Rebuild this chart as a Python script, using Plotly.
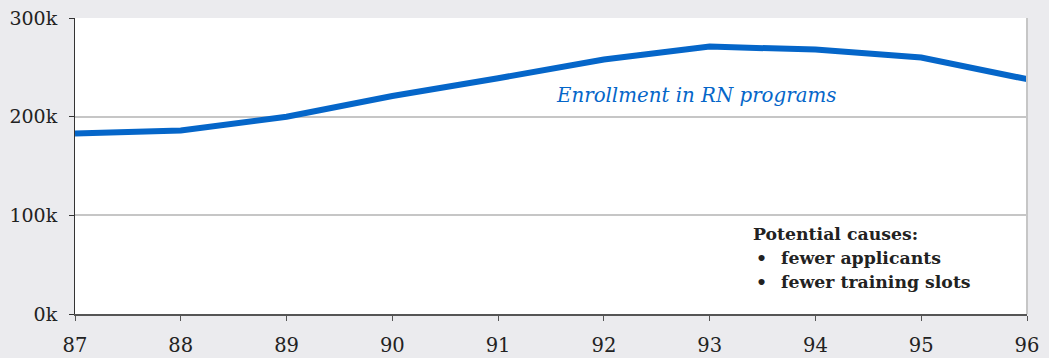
import plotly.graph_objects as go

# Enrollment in RN programs, thousands of students by year
years = [87, 88, 89, 90, 91, 92, 93, 94, 95, 96]
enrollment = [183000, 186000, 200000, 221000, 239000, 258000, 271000, 268000, 260000, 238000]

y_ticks = [0, 100000, 200000, 300000]
y_tick_labels = ["0k", "100k", "200k", "300k"]

series_label = "Enrollment in RN programs"
causes_title = "Potential causes:"
causes = ["fewer applicants", "fewer training slots"]

SERIF = "DejaVu Serif"
BLUE = "#0566c9"
TEXT = "#222222"

fig = go.Figure()
fig.add_trace(go.Scatter(
    x=years, y=enrollment, mode="lines",
    line=dict(color=BLUE, width=6),
    hoverinfo="skip", showlegend=False,
))

fig.update_layout(
    width=1049, height=358,
    margin=dict(l=75, r=22, t=18, b=44),
    paper_bgcolor="#ebebee",
    plot_bgcolor="white",
    font=dict(family=SERIF, size=19, color=TEXT),
    showlegend=False,
)

fig.update_xaxes(
    range=[87, 96], tickvals=years, ticktext=[str(v) for v in years],
    showgrid=False, zeroline=False,
    showline=True, linecolor="#555555", linewidth=2,
    ticks="outside", ticklen=5, tickcolor="#555555", tickwidth=1,
    tickfont=dict(family=SERIF, size=19.5, color=TEXT),
    ticklabelstandoff=8,
    automargin=False,
)
fig.update_yaxes(
    range=[0, 300000], tickvals=y_ticks, ticktext=y_tick_labels,
    showgrid=True, gridcolor="#c6c6c6", gridwidth=2,
    zeroline=False,
    showline=True, linecolor="#333333", linewidth=1,
    ticks="outside", ticklen=5, tickcolor="#333333", tickwidth=1,
    tickfont=dict(family=SERIF, size=19, color=TEXT),
    ticklabelstandoff=8,
    automargin=False,
)

# right border of the plotting area
fig.add_shape(type="line", xref="paper", yref="paper", x0=1, x1=1, y0=0, y1=1,
              line=dict(color="#c6c6c6", width=2))

fig.add_annotation(
    x=93 - 0.13, y=221000, xref="x", yref="y", text=f"<i>{series_label}</i>",
    showarrow=False, xanchor="center", yanchor="middle",
    font=dict(family=SERIF, size=19.8, color=BLUE),
)

fig.add_annotation(
    x=93.39, y=81000, xref="x", yref="y", text=f"<b>{causes_title}</b>",
    showarrow=False, xanchor="left", yanchor="middle",
    font=dict(family=SERIF, size=17.3, color=TEXT),
)
for i, cause in enumerate(causes):
    yv = 57000 - i * 25000
    fig.add_annotation(
        x=93.42, y=yv, xref="x", yref="y", text="<b>•</b>",
        showarrow=False, xanchor="left", yanchor="middle",
        font=dict(family=SERIF, size=17.3, color=TEXT),
    )
    fig.add_annotation(
        x=93.66, y=yv, xref="x", yref="y", text=f"<b>{cause}</b>",
        showarrow=False, xanchor="left", yanchor="middle",
        font=dict(family=SERIF, size=17.3, color=TEXT),
    )

fig.write_html("out.html")
